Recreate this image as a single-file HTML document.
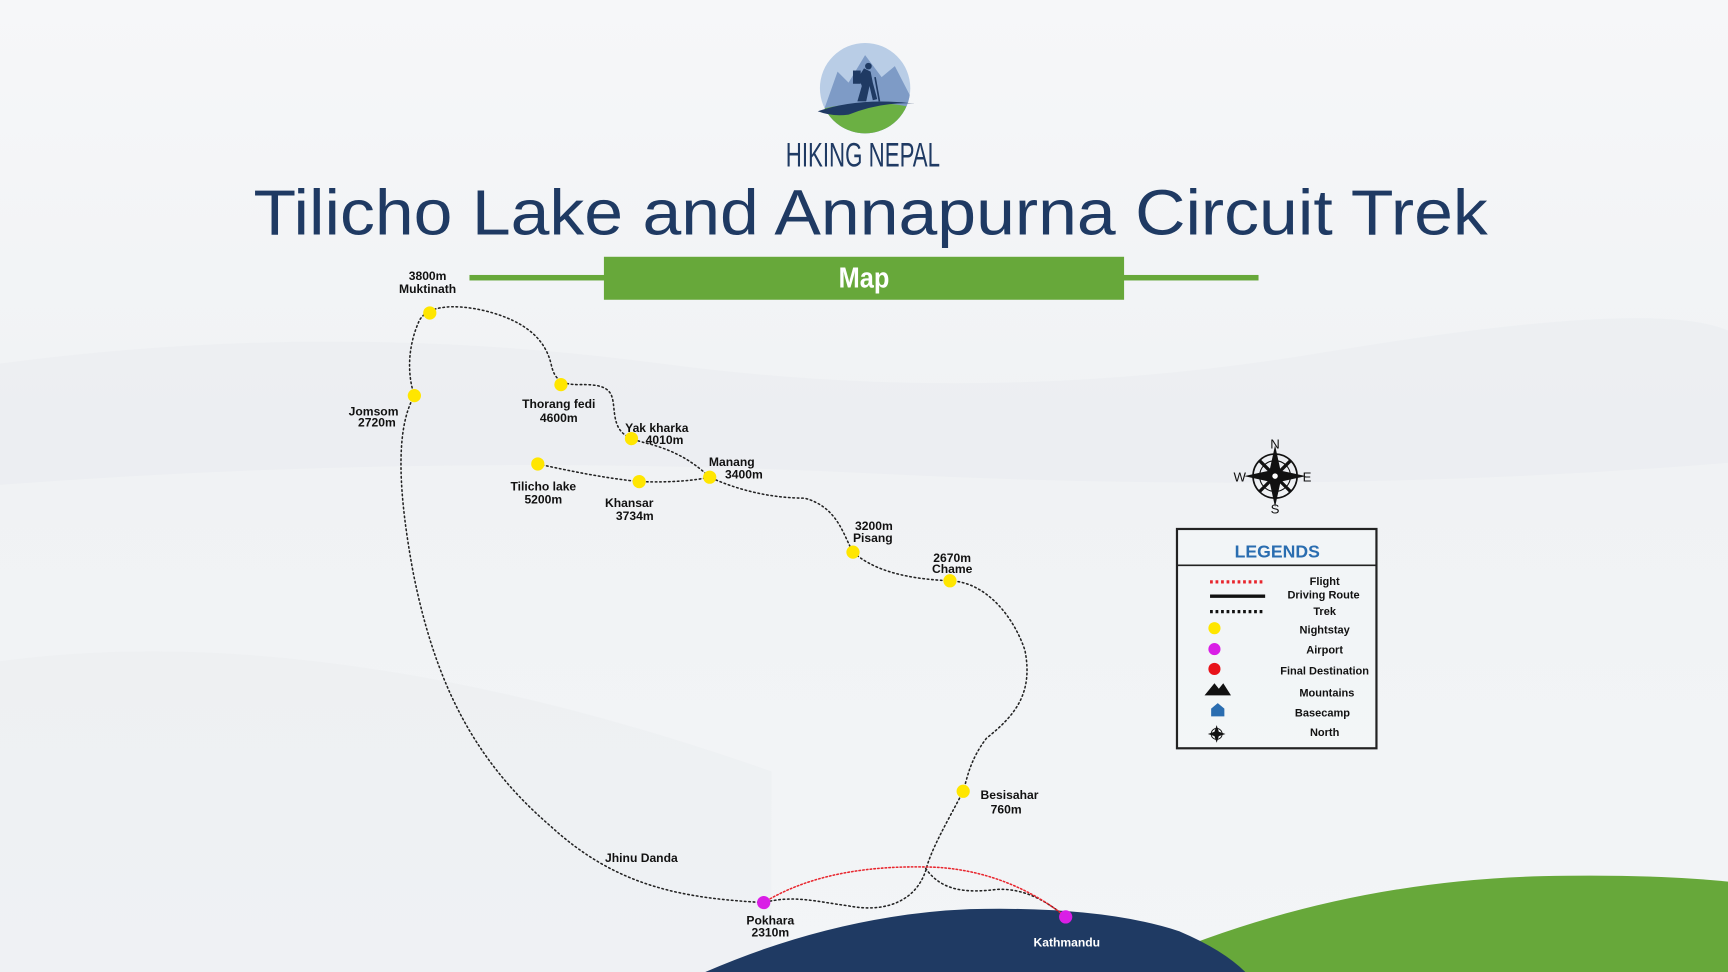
<!DOCTYPE html>
<html><head><meta charset="utf-8"><style>
html,body{margin:0;padding:0;width:1728px;height:972px;overflow:hidden;background:#f2f4f6}
svg{display:block}
text{font-family:"Liberation Sans",Arial,sans-serif;font-weight:bold}
.n{font-weight:normal}
</style></head><body>
<svg width="1728" height="972" viewBox="0 0 1568 882" preserveAspectRatio="none" xmlns="http://www.w3.org/2000/svg">
<defs>
<linearGradient id="bg" x1="0" y1="0" x2="0" y2="1">
<stop offset="0" stop-color="#f6f7f9"/><stop offset="0.45" stop-color="#f0f2f4"/><stop offset="1" stop-color="#f3f5f7"/>
</linearGradient>
<clipPath id="cc"><circle cx="785" cy="80" r="41"/></clipPath>
</defs>
<rect width="1568" height="882" fill="url(#bg)"/>
<path d="M0 330 Q300 290 600 330 T1200 320 T1568 300 L1568 420 Q1200 450 800 430 T0 440Z" fill="#e6e9ed" opacity="0.35"/>
<path d="M0 600 Q300 560 700 700 L700 882 L0 882Z" fill="#e9ecef" opacity="0.35"/>
<!-- hills -->
<path d="M1020 882 Q1200 800 1400 795 Q1500 793 1568 800 L1568 882Z" fill="#67a83a"/>
<path d="M640 882 Q760 830 880 825 Q1000 822 1070 845 Q1110 862 1130 882Z" fill="#1f3a63"/>
<!-- logo -->
<g clip-path="url(#cc)">
<rect x="740" y="35" width="90" height="90" fill="#b9cde6"/>
<path d="M744 110 L760 65 L770 75 L785 50 L800 70 L812 60 L830 95 L830 125 L740 125Z" fill="#7e9bc6"/>
<path d="M740 100 Q790 88 830 98 L830 125 L740 125Z" fill="#6bb043"/>
</g>
<path d="M742 101 Q780 88 830 94 Q800 92 770 104 Q755 106 742 101Z" fill="#1f3a63"/>
<path d="M778 92 L782 78 L779 70 L784 62 L790 65 L792 75 L796 90 L792 91 L789 78 L786 92Z" fill="#1f3a63"/>
<circle cx="788" cy="60" r="3" fill="#1f3a63"/>
<rect x="774" y="64" width="7" height="12" fill="#1f3a63"/>
<line x1="794" y1="70" x2="798" y2="92" stroke="#1f3a63" stroke-width="1.5"/>
<text class="n" x="783" y="151" text-anchor="middle" font-size="31" fill="#1f3a63" textLength="140" lengthAdjust="spacingAndGlyphs" style="font-family:'Liberation Sans Narrow','Liberation Sans',sans-serif">HIKING NEPAL</text>
<text class="n" x="790" y="213" text-anchor="middle" font-size="58" fill="#1f3a63" textLength="1120" lengthAdjust="spacingAndGlyphs">Tilicho Lake and Annapurna Circuit Trek</text>
<!-- map bar -->
<rect x="426" y="249.5" width="716" height="5" fill="#67a83a"/>
<rect x="548" y="233" width="472" height="39" fill="#67a83a"/>
<text x="784" y="261" text-anchor="middle" font-size="26" fill="#fff" textLength="46" lengthAdjust="spacingAndGlyphs" style="font-family:'Liberation Sans Narrow','Liberation Sans',sans-serif">Map</text>
<!-- trek paths -->
<g fill="none" stroke="#222" stroke-width="1.4" stroke-dasharray="1.4 2.6" stroke-linecap="round">
<path d="M693 819 C620 815 560 805 500 750 C430 690 395 620 375 520 C362 450 358 390 376 359 C368 335 372 310 380 292 C386 278 410 275 440 282 C480 292 495 310 500 330 C503 345 510 349 525 349 C560 348 555 360 558 378 C561 395 570 398 590 403 C615 410 630 420 644 433 C670 445 700 452 730 452 C760 460 765 485 774 501 C790 515 815 525 862 527 C895 528 920 560 930 590 C938 630 920 650 895 670 C880 690 878 705 874 718 C860 745 845 770 840 790 C830 820 800 828 770 822 C740 818 720 812 693 819"/>
<path d="M840 788 C855 810 880 810 905 807 C930 806 950 818 967 832"/>
<path d="M488 421 C520 428 550 434 580 437 C610 438 630 436 644 433"/>
</g>
<path d="M693 819 C740 790 800 785 850 787 C900 790 940 810 967 832" fill="none" stroke="#e8262e" stroke-width="1.4" stroke-dasharray="1.4 2" stroke-linecap="round"/>
<!-- points -->
<g fill="#ffe600">
<circle cx="390" cy="284" r="6"/><circle cx="376" cy="359" r="6"/><circle cx="509" cy="349" r="6"/>
<circle cx="573" cy="398" r="6"/><circle cx="644" cy="433" r="6"/><circle cx="488" cy="421" r="6"/>
<circle cx="580" cy="437" r="6"/><circle cx="774" cy="501" r="6"/><circle cx="862" cy="527" r="6"/>
<circle cx="874" cy="718" r="6"/>
</g>
<circle cx="693" cy="819" r="6" fill="#d91ee6"/><circle cx="967" cy="832" r="6" fill="#d91ee6"/>
<!-- labels -->
<g font-size="11" fill="#111" text-anchor="middle">
<text x="388" y="254">3800m</text><text x="388" y="266">Muktinath</text>
<text x="339" y="377">Jomsom</text><text x="342" y="387">2720m</text>
<text x="507" y="370">Thorang fedi</text><text x="507" y="383">4600m</text>
<text x="596" y="392">Yak kharka</text><text x="603" y="403">4010m</text>
<text x="664" y="423">Manang</text><text x="675" y="434">3400m</text>
<text x="493" y="445">Tilicho lake</text><text x="493" y="457">5200m</text>
<text x="571" y="460">Khansar</text><text x="576" y="472">3734m</text>
<text x="793" y="481">3200m</text><text x="792" y="492">Pisang</text>
<text x="864" y="510">2670m</text><text x="864" y="520">Chame</text>
<text x="916" y="725">Besisahar</text><text x="913" y="738">760m</text>
<text x="582" y="782">Jhinu Danda</text>
<text x="699" y="839">Pokhara</text><text x="699" y="850">2310m</text>
<text x="968" y="859" fill="#fff">Kathmandu</text>
</g>
<!-- compass -->
<g transform="translate(1157,432)">
<circle r="20" fill="none" stroke="#111" stroke-width="1.5"/>
<circle r="14" fill="none" stroke="#111" stroke-width="1"/>
<path d="M0 -28 L5 -5 L28 0 L5 5 L0 28 L-5 5 L-28 0 L-5 -5Z" fill="#111"/>
<path d="M14 -14 L3 -3 M-14 -14 L-3 -3 M14 14 L3 3 M-14 14 L-3 3" stroke="#111" stroke-width="3"/>
<circle r="3" fill="#fff" stroke="#111"/>
<text class="n" y="-25" font-size="12" text-anchor="middle" fill="#111">N</text>
<text class="n" y="34" font-size="12" text-anchor="middle" fill="#111">S</text>
<text class="n" x="-32" y="5" font-size="12" text-anchor="middle" fill="#111">W</text>
<text class="n" x="29" y="5" font-size="12" text-anchor="middle" fill="#111">E</text>
</g>
<!-- legend -->
<rect x="1068" y="480" width="181" height="199" fill="#f4f6f8" fill-opacity="0.6" stroke="#222" stroke-width="2"/>
<line x1="1068" y1="513" x2="1249" y2="513" stroke="#222" stroke-width="1.5"/>
<text x="1159" y="506" font-size="16" fill="#2a6db0" text-anchor="middle">LEGENDS</text>
<line x1="1098" y1="528" x2="1148" y2="528" stroke="#e8262e" stroke-width="3" stroke-dasharray="2.5 2.5"/>
<line x1="1098" y1="541" x2="1148" y2="541" stroke="#111" stroke-width="3"/>
<line x1="1098" y1="555" x2="1148" y2="555" stroke="#111" stroke-width="3" stroke-dasharray="2.5 2.5"/>
<circle cx="1102" cy="570" r="5.5" fill="#ffe600"/>
<circle cx="1102" cy="589" r="5.5" fill="#d91ee6"/>
<circle cx="1102" cy="607" r="5.5" fill="#e8121a"/>
<path d="M1093 631 L1102 620 L1106 625 L1110 620 L1117 631Z" fill="#111"/>
<path d="M1099 650 L1099 643 L1105 638 L1111 643 L1111 650Z" fill="#2a6db0"/>
<g transform="translate(1104,666)"><path d="M0 -8 L2 -2 L8 0 L2 2 L0 8 L-2 2 L-8 0 L-2 -2Z" fill="#111"/><circle r="5" fill="none" stroke="#111" stroke-width="0.8"/></g>
<g font-size="10" fill="#111" text-anchor="middle">
<text x="1202" y="531">Flight</text><text x="1201" y="543">Driving Route</text><text x="1202" y="558">Trek</text>
<text x="1202" y="575">Nightstay</text><text x="1202" y="593">Airport</text><text x="1202" y="612">Final Destination</text>
<text x="1204" y="632">Mountains</text><text x="1200" y="650">Basecamp</text><text x="1202" y="668">North</text>
</g>
</svg>
</body></html>
